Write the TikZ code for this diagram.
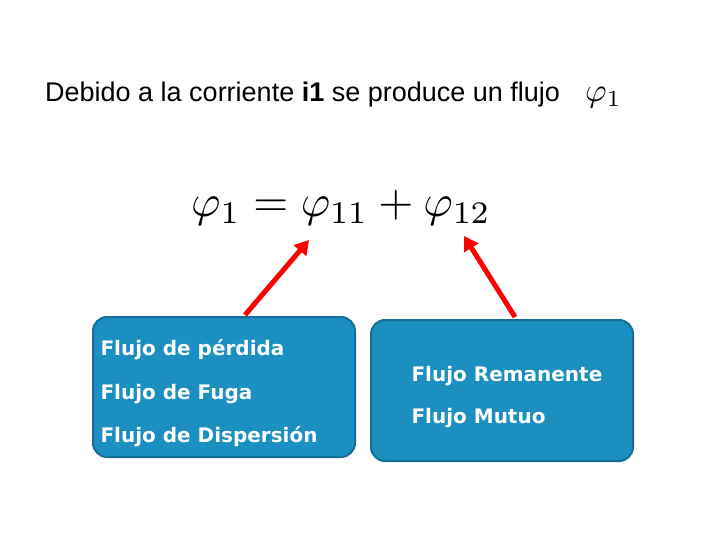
\documentclass[tikz,border=0pt]{standalone}
\usepackage{fontspec}
\usepackage{graphicx}
\setmainfont{Liberation Sans}
\newfontfamily\boxfont{DejaVu Sans}
\usetikzlibrary{arrows.meta}
\definecolor{boxfill}{HTML}{1A8FC0}
\definecolor{boxline}{HTML}{156E98}
\begin{document}
\begin{tikzpicture}[x=1pt,y=-1pt,
  fbox/.style={draw=boxline,line width=2pt,fill=boxfill,rounded corners=14pt},
  btxt/.style={anchor=west,text=white,font=\boxfont\bfseries\fontsize{20}{24}\selectfont},
  redarrow/.style={draw=red,line width=5pt,-{Triangle[length=14pt,width=16pt]}}]
\useasboundingbox (0,0) rectangle (720,540);
\node[anchor=base west,inner sep=0,font=\fontsize{27}{32}\selectfont] (title) at (45,102)
  {Debido a la corriente \textbf{i1} se produce un flujo};
\node[anchor=base west,inner sep=0] (phi) at (585,102) {\scalebox{3.3}{$\varphi_1$}};
\node[inner sep=0] (eq) at (341,208) {\scalebox{4.5}{$\varphi_1=\varphi_{11}+\varphi_{12}$}};
\draw[fbox] (93,317) rectangle (355,457);
\draw[fbox] (371,320) rectangle (633,461);
\node[btxt] (a1) at (97,350) {Flujo de pérdida};
\node[btxt] (a2) at (97,394) {Flujo de Fuga};
\node[btxt] (a3) at (97,437) {Flujo de Dispersión};
\node[btxt] (b1) at (408,376) {Flujo Remanente};
\node[btxt] (b2) at (408,418) {Flujo Mutuo};
\coordinate (l0) at (245,315); \coordinate (l1) at (309,240);
\coordinate (r0) at (515,317); \coordinate (r1) at (464,236);
\draw[redarrow] (l0) -- (l1);
\draw[redarrow] (r0) -- (r1);
\end{tikzpicture}
\end{document}
